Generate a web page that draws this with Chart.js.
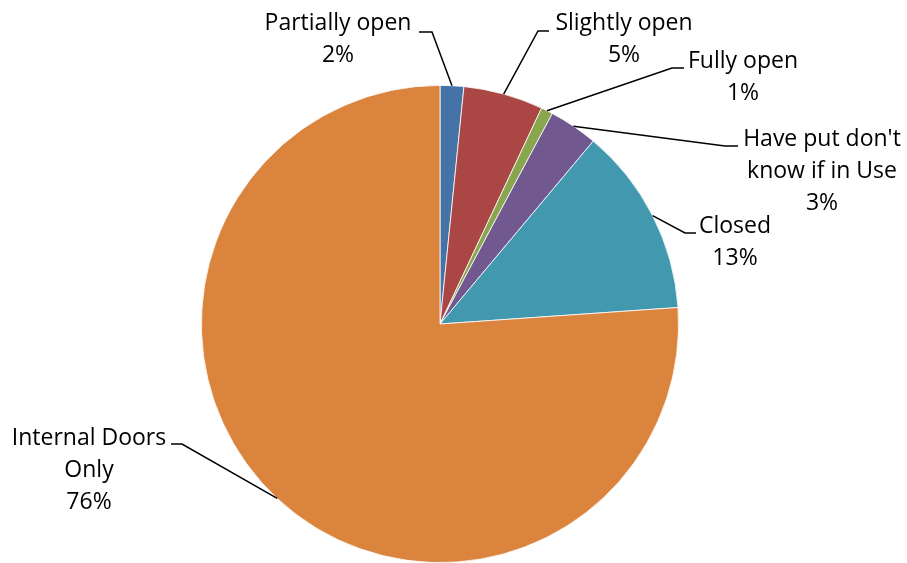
<!DOCTYPE html>
<html>
<head>
<meta charset="utf-8">
<script src="https://cdn.jsdelivr.net/npm/chart.js@4.4.1/dist/chart.umd.min.js"></script>
<style>
  html, body { margin: 0; padding: 0; background: #fff; }
  #wrap { width: 907px; height: 563px; }
</style>
</head>
<body>
<div id="wrap"><canvas id="piediv"></canvas></div>
<script>
// categories (multi-line labels) and their share in percent
var categories = [
  ["Partially open"],
  ["Slightly open"],
  ["Fully open"],
  ["Have put don't", "know if in Use"],
  ["Closed"],
  ["Internal Doors", "Only"]
];
var shares = [1.6, 5.4, 0.8, 3.3, 12.8, 76.1];
var colours = ["#4572A7", "#AA4643", "#89A54E", "#71588F", "#4198AF", "#DB843D"];

// where each callout sits: elbow of the leader, end of the short tick, text centre / first baseline
var callouts = [
  { elbow: [432, 32], end: [419, 32], tx: 338, ty: 30 },
  { elbow: [538, 31], end: [549, 31], tx: 624, ty: 30 },
  { elbow: [672, 68], end: [684, 68], tx: 743, ty: 68 },
  { elbow: [725, 146], end: [738, 146], tx: 822, ty: 146 },
  { elbow: [685, 233], end: [696, 233], tx: 735, ty: 233 },
  { elbow: [182, 444], end: [171, 444], tx: 89, ty: 445 }
];

var calloutPlugin = {
  id: 'callouts',
  afterDatasetsDraw: function (chart) {
    var ctx = chart.ctx;
    var arcs = chart.getDatasetMeta(0).data;
    ctx.save();
    ctx.font = '23px "Open Sans"';
    ctx.fillStyle = '#000';
    ctx.strokeStyle = '#000';
    ctx.lineWidth = 1.5;
    ctx.textAlign = 'center';
    ctx.textBaseline = 'alphabetic';
    arcs.forEach(function (arc, i) {
      var c = callouts[i];
      var mid = (arc.startAngle + arc.endAngle) / 2;
      var sx = arc.x + Math.cos(mid) * arc.outerRadius;
      var sy = arc.y + Math.sin(mid) * arc.outerRadius;
      ctx.beginPath();
      ctx.moveTo(sx, sy);
      ctx.lineTo(c.elbow[0], c.elbow[1]);
      ctx.lineTo(c.end[0], c.end[1]);
      ctx.stroke();
      var lines = categories[i].concat([Math.round(shares[i]) + '%']);
      lines.forEach(function (txt, k) {
        ctx.fillText(txt, c.tx, c.ty + k * 32);
      });
    });
    ctx.restore();
  }
};

var pieChart = new Chart(document.getElementById('piediv'), {
  type: 'pie',
  data: {
    labels: categories.map(function (l) { return l.join(' '); }),
    datasets: [{
      data: shares,
      backgroundColor: colours,
      borderColor: '#ffffff',
      borderWidth: 0.8
    }]
  },
  options: {
    responsive: true,
    maintainAspectRatio: false,
    animation: false,
    layout: { padding: { top: 85, bottom: 0, left: 0, right: 27 } },
    plugins: {
      legend: { display: false },
      tooltip: { enabled: false }
    }
  },
  plugins: [calloutPlugin]
});
</script>
</body>
</html>
